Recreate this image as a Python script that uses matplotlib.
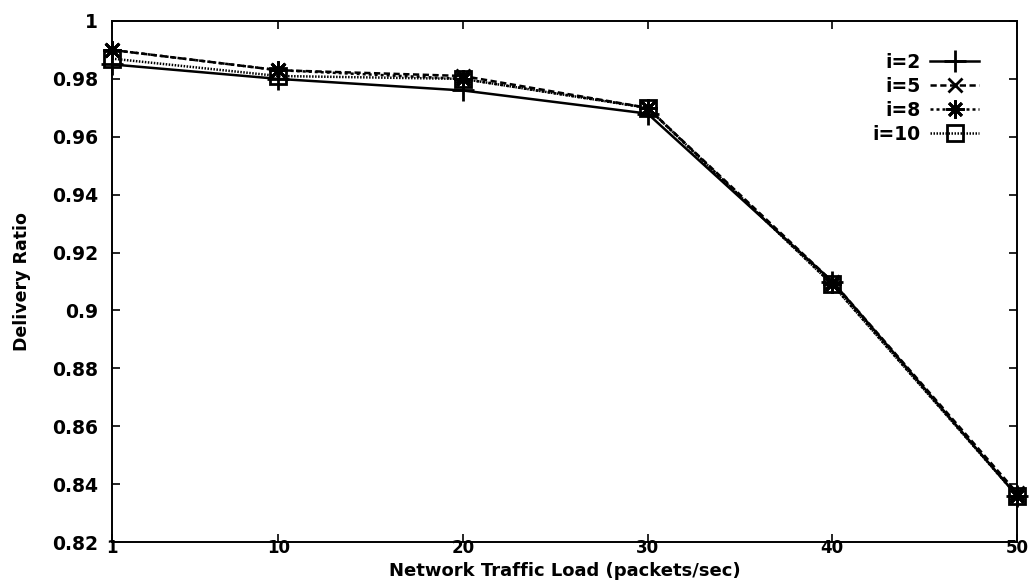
import matplotlib.pyplot as plt
from matplotlib.ticker import FixedLocator

plt.rcParams['font.family'] = ['DejaVu Sans']
plt.rcParams['font.weight'] = 'bold'

load = [1, 10, 20, 30, 40, 50]
ratio_i2 = [0.985, 0.980, 0.976, 0.968, 0.910, 0.836]
ratio_i5 = [0.990, 0.983, 0.981, 0.970, 0.910, 0.837]
ratio_i8 = [0.990, 0.983, 0.980, 0.970, 0.909, 0.836]
ratio_i10 = [0.987, 0.981, 0.980, 0.970, 0.909, 0.836]

y_ticks = [0.82, 0.84, 0.86, 0.88, 0.90, 0.92, 0.94, 0.96, 0.98, 1.0]
y_labels = ["0.82", "0.84", "0.86", "0.88", "0.9", "0.92", "0.94", "0.96", "0.98", "1"]

series = [
    ("i=2", ratio_i2, "+", "-", 16),
    ("i=5", ratio_i5, "x", (0, (2.5, 1.4)), 10.5),
    ("i=8", ratio_i8, (8, 2, 0), (0, (1.2, 1.2)), 13),
    ("i=10", ratio_i10, "s", (0, (0.6, 0.6)), 12),
]

bottom_px = 542
fig = plt.figure(figsize=(10.34, 5.81), dpi=100)
ax = fig.add_axes([112 / 1034, 1 - bottom_px / 581, 905 / 1034, (bottom_px - 21) / 581])

for label, vals, mk, ls, ms in series:
    ax.plot(load, vals, color="black", linestyle=ls, linewidth=1.8,
            marker=mk, markersize=ms, markerfacecolor="none",
            markeredgecolor="black", markeredgewidth=2, label=label,
            clip_on=False, zorder=3)

ax.set_xlim(1, 50)
ax.set_ylim(0.82, 1.0)
ax.xaxis.set_major_locator(FixedLocator(load))
ax.yaxis.set_major_locator(FixedLocator(y_ticks))
ax.set_yticklabels(y_labels)
ax.tick_params(direction="in", length=5.5, width=1.2, top=True, right=True,
               labelsize=13.5)
ax.tick_params(axis="x", pad=-2, labelsize=12)
ax.tick_params(axis="y", pad=10)
for sp in ax.spines.values():
    sp.set_linewidth(1.4)

ax.set_xlabel("Network Traffic Load (packets/sec)", fontsize=13, fontweight="bold")
ax.xaxis.label.set_va("baseline")
ax.xaxis.set_label_coords(0.5, -(576 - bottom_px) / (bottom_px - 21))
ax.set_ylabel("Delivery Ratio", fontsize=12.5, fontweight="bold")
ax.yaxis.label.set_va("center")
ax.yaxis.set_label_coords(-90 / 905, 0.5)

ax.legend(loc="upper right", bbox_to_anchor=(979 / 1034, 1 - 53 / 581),
          bbox_transform=fig.transFigure, frameon=False, borderpad=0,
          borderaxespad=0, markerfirst=False, fontsize=13.5, handlelength=2.6,
          handletextpad=0.5, labelspacing=0.26)

fig.savefig("out.png", dpi=100)
